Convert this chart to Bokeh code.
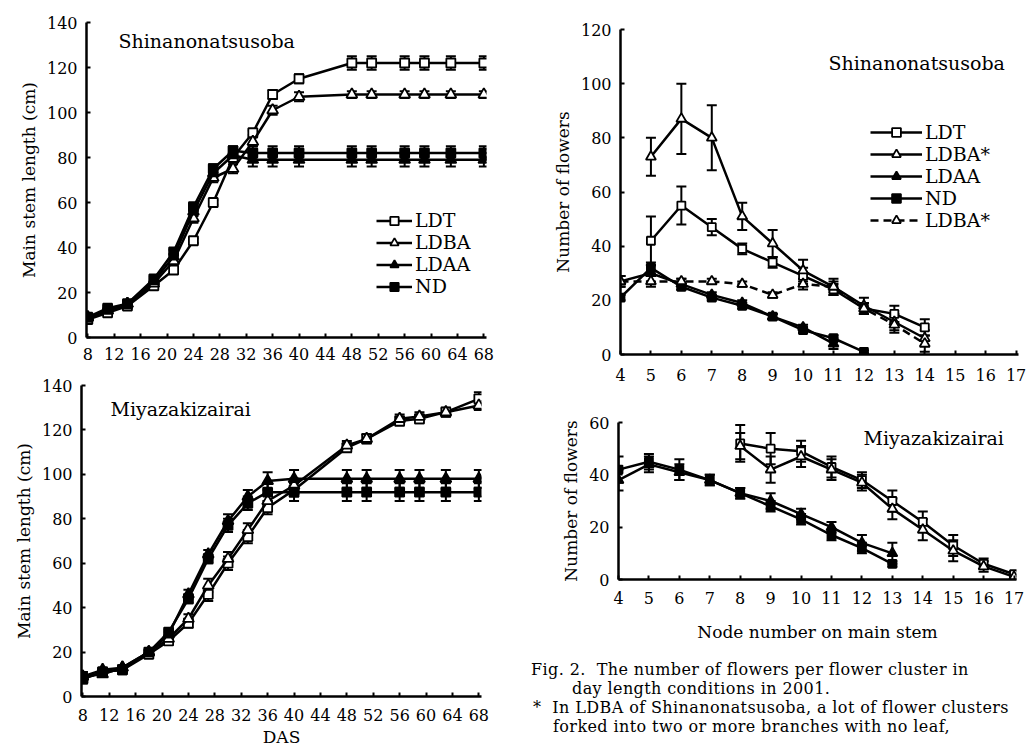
from bokeh.plotting import figure
from bokeh.models import (Range1d, FixedTicker, Whisker, TeeHead, ColumnDataSource,
                          Legend, LegendItem, Label, Div)
from bokeh.layouts import row, column
from bokeh.embed import file_html
from bokeh.resources import INLINE

FONT = "DejaVu Serif"

# ---------------- data ----------------
das = [8, 11, 14, 18, 21, 24, 27, 30, 33, 36, 40, 48, 51, 56, 59, 63, 68]
das_ticks = [8, 12, 16, 20, 24, 28, 32, 36, 40, 44, 48, 52, 56, 60, 64, 68]

# Shinanonatsusoba main stem length (cm)
sh_ldt = [8, 11, 14, 23, 30, 43, 60, 80, 91, 108, 115, 122, 122, 122, 122, 122, 122]
sh_ldt_err = [1, 1, 1, 1, 1, 1, 1, 1, 1, 2, 2, 3, 3, 3, 3, 3, 3]
sh_ldba = [9, 12, 15, 24, 34, 53, 71, 75, 87, 101, 107, 108, 108, 108, 108, 108, 108]
sh_ldba_err = [1, 1, 1, 1, 1, 2, 2, 2, 2, 2, 2, 1.5, 1.5, 1.5, 1.5, 1.5, 1.5]
sh_ldaa = [9, 12, 15, 25, 36, 56, 73, 81, 79, 79, 79, 79, 79, 79, 79, 79, 79]
sh_ldaa_err = [1, 1, 1, 1, 1, 2, 2, 2, 3, 3, 3, 3, 3, 3, 3, 3, 3]
sh_nd = [9, 13, 15, 26, 38, 58, 75, 83, 82, 82, 82, 82, 82, 82, 82, 82, 82]
sh_nd_err = [1, 1, 1, 1, 1, 2, 2, 2, 3, 3, 3, 3, 3, 3, 3, 3, 3]

# Miyazakizairai main stem length (cm)
mi_ldt = [8, 11, 12, 19, 25, 33, 46, 60, 72, 85, 93, 112, 116, 124, 125, 128, 134]
mi_ldt_err = [2, 1, 1, 1, 1, 2, 3, 3, 3, 3, 3, 2, 2, 2, 2, 2, 3]
mi_ldba = [9, 10, 13, 20, 26, 35, 50, 62, 75, 88, 95, 113, 116, 125, 126, 128, 131]
mi_ldba_err = [2, 1, 1, 1, 1, 2, 3, 3, 3, 3, 3, 2, 2, 2, 2, 2, 2]
mi_ldaa = [9, 12, 13, 20, 28, 46, 64, 79, 90, 97, 98, 98, 98, 98, 98, 98, 98]
mi_ldaa_err = [2, 1, 1, 1, 1, 2, 2, 3, 3, 4, 4, 4, 4, 4, 4, 4, 4]
mi_nd = [8, 11, 12, 20, 29, 44, 62, 77, 87, 92, 92, 92, 92, 92, 92, 92, 92]
mi_nd_err = [2, 1, 1, 1, 1, 2, 2, 3, 3, 4, 4, 4, 4, 4, 4, 4, 4]

node_ticks = [4, 5, 6, 7, 8, 9, 10, 11, 12, 13, 14, 15, 16, 17]

# Shinanonatsusoba number of flowers
shf_ldt_x = [5, 6, 7, 8, 9, 10, 11, 12, 13, 14]
shf_ldt = [42, 55, 47, 39, 34, 29, 24, 17, 15, 10]
shf_ldt_err = [9, 7, 3, 2, 2, 3, 2, 2, 3, 3]
shf_ldba_x = [5, 6, 7, 8, 9, 10, 11, 12, 13, 14]
shf_ldba = [73, 87, 80, 51, 41, 31, 25, 18, 12, 6]
shf_ldba_err = [7, 13, 12, 5, 5, 4, 3, 3, 3, 3]
shf_ldaa_x = [4, 5, 6, 7, 8, 9, 10, 11]
shf_ldaa = [27, 30, 26, 22, 19, 14, 10, 4]
shf_ldaa_err = [2, 3, 2, 1, 1, 1, 1, 2]
shf_nd_x = [4, 5, 6, 7, 8, 9, 10, 11, 12]
shf_nd = [21, 32, 25, 21, 18, 14, 9, 6, 1]
shf_nd_err = [1, 2, 1, 1, 1, 1, 1, 1, 0.5]
shf_ldba2_x = [4, 5, 6, 7, 8, 9, 10, 11, 12, 13, 14]
shf_ldba2 = [27, 27, 27, 27, 26, 22, 26, 25, 17, 11, 4]
shf_ldba2_err = [2, 2, 1, 1, 1, 1, 2, 2, 2, 3, 3]

# Miyazakizairai number of flowers
mif_ldt_x = [8, 9, 10, 11, 12, 13, 14, 15, 16, 17]
mif_ldt = [52, 50, 49, 43, 38, 30, 22, 13, 6, 2]
mif_ldt_err = [7, 6, 4, 4, 3, 4, 4, 4, 2, 1]
mif_ldba_x = [8, 9, 10, 11, 12, 13, 14, 15, 16, 17]
mif_ldba = [51, 42, 47, 42, 37, 27, 19, 11, 5, 1]
mif_ldba_err = [5, 5, 4, 4, 3, 4, 4, 4, 2, 1]
mif_ldaa_x = [4, 5, 6, 7, 8, 9, 10, 11, 12, 13]
mif_ldaa = [38, 44, 41, 38, 33, 30, 25, 20, 14, 10]
mif_ldaa_err = [4, 3, 3, 2, 2, 3, 2, 2, 3, 4]
mif_nd_x = [4, 5, 6, 7, 8, 9, 10, 11, 12, 13]
mif_nd = [42, 45, 42, 38, 33, 28, 23, 17, 12, 6]
mif_nd_err = [5, 3, 4, 2, 2, 2, 2, 2, 2, 1]

STYLES = {
    "LDT": ("square", "white"),
    "LDBA": ("triangle", "white"),
    "LDAA": ("triangle", "black"),
    "ND": ("square", "black"),
}


def base_fig(fw, fh, xr, yr, xt, yt, mb):
    p = figure(frame_width=fw, frame_height=fh, x_range=Range1d(*xr), y_range=Range1d(*yr),
               output_backend="svg", toolbar_location=None, frame_align=False,
               min_border_left=mb[0], min_border_right=mb[1],
               min_border_top=mb[2], min_border_bottom=mb[3])
    p.outline_line_color = None
    p.grid.visible = False
    p.background_fill_color = "white"
    p.border_fill_color = "white"
    for ax in (p.xaxis[0], p.yaxis[0]):
        ax.axis_line_width = 2.5
        ax.axis_line_color = "black"
        ax.major_tick_in = 4
        ax.major_tick_out = 0
        ax.major_tick_line_width = 2
        ax.minor_tick_line_color = None
        ax.major_label_text_font = FONT
        ax.major_label_text_font_size = "16px"
        ax.major_label_text_color = "black"
        ax.axis_label_text_font = FONT
        ax.axis_label_text_font_size = "17px"
        ax.axis_label_text_font_style = "normal"
        ax.axis_label_text_color = "black"
    p.xaxis[0].ticker = FixedTicker(ticks=xt)
    p.yaxis[0].ticker = FixedTicker(ticks=yt)
    p.xaxis[0].major_label_standoff = 10
    p.yaxis[0].major_label_standoff = 9
    return p


def series(p, x, y, err, kind, dash="solid", msize=9):
    marker, fill = STYLES[kind]
    lo = [a - e for a, e in zip(y, err)]
    hi = [a + e for a, e in zip(y, err)]
    src = ColumnDataSource(dict(x=x, y=y, lo=lo, hi=hi))
    wh = Whisker(source=src, base="x", upper="hi", lower="lo", dimension="height",
                 line_color="black", line_width=2,
                 upper_head=TeeHead(size=10, line_width=2, line_color="black"),
                 lower_head=TeeHead(size=10, line_width=2, line_color="black"))
    p.add_layout(wh)
    ln = p.line("x", "y", source=src, line_color="black", line_width=2.5, line_dash=dash)
    sc = p.scatter("x", "y", source=src, marker=marker, size=msize if marker == "square" else msize + 2,
                   fill_color=fill, line_color="black", line_width=1.8)
    return [ln, sc]


def title(p, text, x, y):
    p.add_layout(Label(x=x, y=y, x_units="screen", y_units="screen", text=text,
                       text_font=FONT, text_font_size="19px", text_color="black",
                       text_baseline="middle"))


def legend(p, items, x, y, gw, lh):
    lg = Legend(items=[LegendItem(label=l, renderers=r) for l, r in items],
                location=(x, y), border_line_color=None, background_fill_alpha=0,
                glyph_width=gw, glyph_height=lh, label_height=lh, spacing=0,
                padding=0, margin=0, label_standoff=3,
                label_text_font=FONT, label_text_font_size="19px", label_text_color="black")
    p.add_layout(lg, "center")


# ---------------- top-left ----------------
tl = base_fig(400, 315, (7.8, 68.4), (0, 140), das_ticks, [0, 20, 40, 60, 80, 100, 120, 140],
              (86, 34, 22, 28))
tl.yaxis[0].axis_label = "Main stem length (cm)"
r1 = series(tl, das, sh_ldt, sh_ldt_err, "LDT")
r2 = series(tl, das, sh_ldba, sh_ldba_err, "LDBA")
r3 = series(tl, das, sh_ldaa, sh_ldaa_err, "LDAA")
r4 = series(tl, das, sh_nd, sh_nd_err, "ND")
title(tl, "Shinanonatsusoba", 32, 297)
legend(tl, [("LDT", r1), ("LDBA", r2), ("LDAA", r3), ("ND", r4)], 290, 40, 36, 21)

# ---------------- bottom-left ----------------
bl = base_fig(400, 311, (7.8, 68.4), (0, 140), das_ticks, [0, 20, 40, 60, 80, 100, 120, 140],
              (81, 39, 20, 55))
bl.yaxis[0].axis_label = "Main stem length (cm)"
bl.xaxis[0].axis_label = "DAS"
bl.xaxis[0].major_label_standoff = 12
bl.xaxis[0].axis_label_standoff = 3
series(bl, das, mi_ldt, mi_ldt_err, "LDT")
series(bl, das, mi_ldba, mi_ldba_err, "LDBA")
series(bl, das, mi_ldaa, mi_ldaa_err, "LDAA")
series(bl, das, mi_nd, mi_nd_err, "ND")
title(bl, "Miyazakizairai", 29, 288)

# ---------------- top-right ----------------
tr = base_fig(398, 325, (4, 17.08), (0, 120), node_ticks, [0, 20, 40, 60, 80, 100, 120],
              (100, 10, 29, 46))
tr.yaxis[0].axis_label = "Number of flowers"
tr.xaxis[0].major_label_standoff = 14
q1 = series(tr, shf_ldt_x, shf_ldt, shf_ldt_err, "LDT", msize=8)
q2 = series(tr, shf_ldba_x, shf_ldba, shf_ldba_err, "LDBA", msize=8)
q3 = series(tr, shf_ldaa_x, shf_ldaa, shf_ldaa_err, "LDAA", msize=8)
q4 = series(tr, shf_nd_x, shf_nd, shf_nd_err, "ND", msize=8)
q5 = series(tr, shf_ldba2_x, shf_ldba2, shf_ldba2_err, "LDBA", dash="8 5", msize=8)
title(tr, "Shinanonatsusoba", 208, 292)
legend(tr, [("LDT", q1), ("LDBA*", q2), ("LDAA", q3), ("ND", q4), ("LDBA*", q5)], 250, 123, 52, 22)

# ---------------- bottom-right ----------------
br = base_fig(398, 157, (4, 17.08), (0, 60), node_ticks, [0, 20, 40, 60],
              (98, 12, 22, 73))
br.yaxis[0].axis_label = "Number of flowers"
br.xaxis[0].axis_label = "Node number on main stem"
br.xaxis[0].major_label_standoff = 12
br.xaxis[0].axis_label_standoff = 15
series(br, mif_ldt_x, mif_ldt, mif_ldt_err, "LDT", msize=8)
series(br, mif_ldba_x, mif_ldba, mif_ldba_err, "LDBA", msize=8)
series(br, mif_ldaa_x, mif_ldaa, mif_ldaa_err, "LDAA", msize=8)
series(br, mif_nd_x, mif_nd, mif_nd_err, "ND", msize=8)
title(br, "Miyazakizairai", 245, 142)

# ---------------- caption ----------------
cap_lines = [
    (6, "Fig. 2.&nbsp; The number of flowers per flower cluster in"),
    (47, "day length conditions in 2001."),
    (8, "*&nbsp; In LDBA of Shinanonatsusoba, a lot of flower clusters"),
    (28, "forked into two or more branches with no leaf,"),
]
html = "".join(
    f'<div style="margin-left:{x}px;white-space:nowrap;">{t}</div>' for x, t in cap_lines)
cap = Div(text=f'<div style="font-family:\'{FONT}\';font-size:16px;line-height:19px;'
               f'letter-spacing:0.4px;color:black;padding-top:3px;">{html}</div>',
          width=508, height=99)

layout = row(column(tl, bl), column(tr, br, cap))
open("out.html", "w").write(file_html(layout, INLINE))
